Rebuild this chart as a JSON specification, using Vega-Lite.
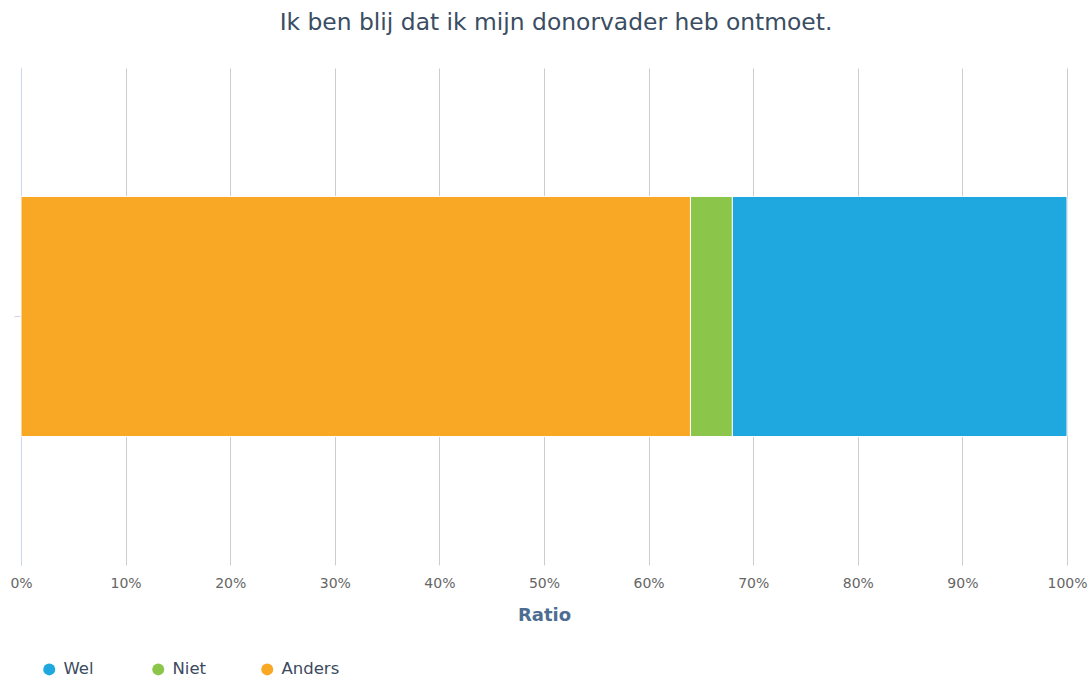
{
  "$schema": "https://vega.github.io/schema/vega-lite/v6.json",
  "autosize": "none",
  "width": 1046,
  "height": 497,
  "padding": {"left": 21, "top": 68, "right": 23, "bottom": 113},
  "background": "white",
  "config": {
    "font": "DejaVu Sans",
    "view": {"stroke": null}
  },
  "title": {
    "text": "Ik ben blij dat ik mijn donorvader heb ontmoet.",
    "fontSize": 23.4,
    "fontWeight": "normal",
    "color": "#3a4d63",
    "anchor": "middle",
    "dx": 12,
    "offset": 33
  },
  "data": {
    "values": [
      {"question": "Ik ben blij dat ik mijn donorvader heb ontmoet.", "answer": "Wel", "ratio": 0.32},
      {"question": "Ik ben blij dat ik mijn donorvader heb ontmoet.", "answer": "Niet", "ratio": 0.04},
      {"question": "Ik ben blij dat ik mijn donorvader heb ontmoet.", "answer": "Anders", "ratio": 0.64}
    ]
  },
  "mark": {"type": "bar", "stroke": "white", "strokeWidth": 1},
  "encoding": {
    "y": {
      "field": "question",
      "type": "nominal",
      "scale": {"paddingInner": 0, "paddingOuter": 0.535},
      "axis": {
        "title": null,
        "labels": false,
        "domainColor": "#ccd6eb",
        "tickColor": "#ccd6eb",
        "tickSize": 7,
        "grid": false
      }
    },
    "x": {
      "field": "ratio",
      "type": "quantitative",
      "stack": "zero",
      "scale": {"domain": [0, 1], "nice": false},
      "axis": {
        "title": "Ratio",
        "titleFontSize": 18,
        "titleFontWeight": "bold",
        "titleColor": "#4d6e91",
        "titlePadding": 16,
        "format": ".0%",
        "values": [0, 0.1, 0.2, 0.3, 0.4, 0.5, 0.6, 0.7, 0.8, 0.9, 1],
        "labelFontSize": 14,
        "labelColor": "#666666",
        "labelPadding": 11,
        "labelFlush": false,
        "labelOverlap": false,
        "domain": false,
        "ticks": false,
        "grid": true,
        "gridColor": "#cccccc",
        "gridWidth": 1
      }
    },
    "color": {
      "field": "answer",
      "type": "nominal",
      "scale": {
        "domain": ["Wel", "Niet", "Anders"],
        "range": ["#1fa8e0", "#8bc64a", "#f9a825"]
      },
      "legend": {
        "title": null,
        "orient": "none",
        "legendX": 20,
        "legendY": 593,
        "direction": "horizontal",
        "gridAlign": "all",
        "columnPadding": 28,
        "symbolType": "circle",
        "symbolSize": 144,
        "symbolStrokeWidth": 0,
        "symbolOffset": 0,
        "labelFontSize": 16.5,
        "labelColor": "#3b4a5e",
        "labelOffset": 6
      }
    },
    "order": {"field": "answer", "sort": "ascending"}
  }
}
